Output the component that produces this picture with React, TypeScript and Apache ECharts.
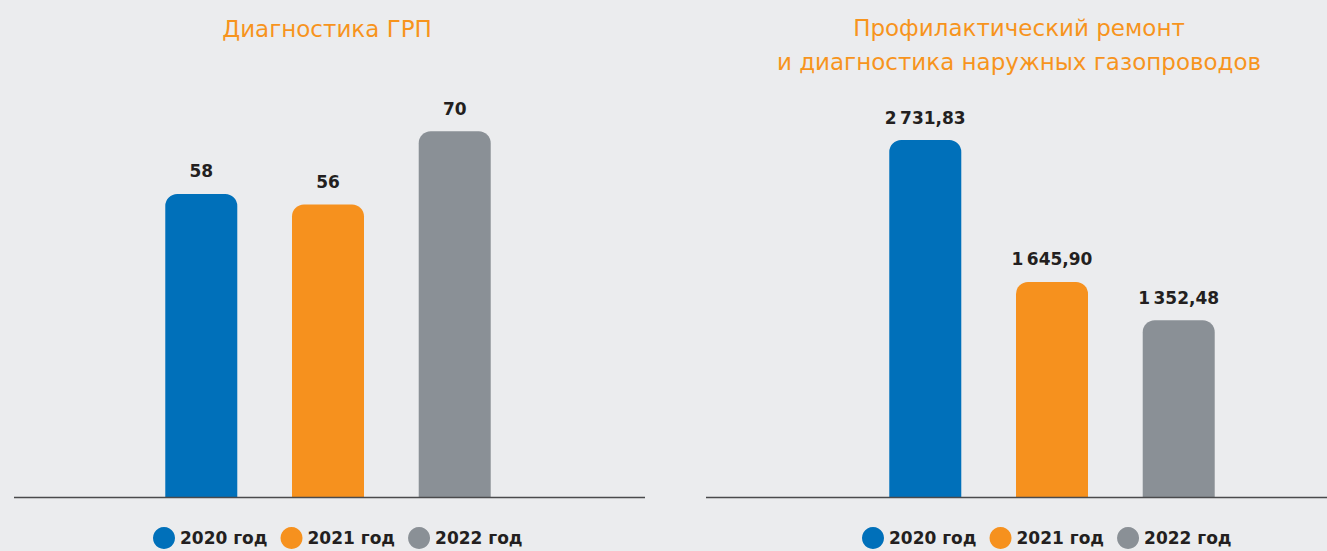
import React, { useEffect, useRef } from "react";
import * as echarts from "echarts";

const years = ["2020 год", "2021 год", "2022 год"];
const colors = ["#0070ba", "#f6911e", "#8a9096"];
const leftTitle = "Диагностика ГРП";
const rightTitle = "Профилактический ремонт\nи диагностика наружных газопроводов";
const leftValues = [58, 56, 70];
const rightValues = [2731.83, 1645.9, 1352.48];

const fmtRu = (v: number) => {
  const [i, d] = v.toFixed(2).split(".");
  const intPart = i.replace(/\B(?=(\d{3})+(?!\d))/g, "\u2009");
  return intPart + "," + d;
};

const FONT = "DejaVu Sans";

export default function App() {
  const ref = useRef<HTMLDivElement>(null);
  useEffect(() => {
    if (!ref.current) return;
    const chart = echarts.init(ref.current, null, { renderer: "svg" });
    const labelStyle = {
      show: true,
      position: "top",
      distance: 14,
      color: "#231f20",
      fontFamily: FONT,
      fontWeight: "bold",
      fontSize: 17,
    };
    const series: any[] = [];
    years.forEach((y, i) => {
      series.push({
        name: y,
        type: "bar",
        xAxisIndex: 0,
        yAxisIndex: 0,
        barWidth: 72,
        barGap: "76%",
        data: [leftValues[i]],
        itemStyle: { color: colors[i], borderRadius: [12, 12, 0, 0] },
        label: { ...labelStyle, formatter: (p: any) => String(p.value) },
      });
    });
    years.forEach((y, i) => {
      series.push({
        name: y,
        type: "bar",
        xAxisIndex: 1,
        yAxisIndex: 1,
        barWidth: 72,
        barGap: "76%",
        data: [rightValues[i]],
        itemStyle: { color: colors[i], borderRadius: [12, 12, 0, 0] },
        label: { ...labelStyle, formatter: (p: any) => fmtRu(p.value) },
      });
    });
    const legendCommon = {
      data: years,
      icon: "circle",
      itemWidth: 22,
      itemHeight: 22,
      itemGap: 13,
      padding: 0,
      top: 527,
      textStyle: {
        color: "#231f20",
        fontFamily: FONT,
        fontWeight: "bold",
        fontSize: 17,
      },
    };
    const titleStyle = {
      color: "#f7941d",
      fontFamily: FONT,
      fontWeight: "normal",
      fontSize: 23,
      lineHeight: 35,
    };
    chart.setOption({
      animation: false,
      backgroundColor: "#ebecee",
      title: [
        { text: leftTitle, left: 322, top: 6, textAlign: "center", textStyle: titleStyle },
        { text: rightTitle, left: 1014, top: 6, textAlign: "center", textStyle: { ...titleStyle, lineHeight: 34 } },
      ],
      legend: [
        { ...legendCommon, left: 153 },
        { ...legendCommon, left: 862 },
      ],
      grid: [
        { left: 128, width: 400, top: 79, bottom: 54 },
        { left: 852, width: 400, top: 105, bottom: 54 },
      ],
      xAxis: [
        { type: "category", gridIndex: 0, data: [""], axisLine: { show: false }, axisTick: { show: false }, axisLabel: { show: false } },
        { type: "category", gridIndex: 1, data: [""], axisLine: { show: false }, axisTick: { show: false }, axisLabel: { show: false } },
      ],
      yAxis: [
        { type: "value", gridIndex: 0, min: 0, max: 80, show: false, splitLine: { show: false } },
        { type: "value", gridIndex: 1, min: 0, max: 3000, show: false, splitLine: { show: false } },
      ],
      graphic: [
        { type: "line", z: 100, shape: { x1: 14, y1: 497.5, x2: 645, y2: 497.5 }, style: { stroke: "#4a4a4c", lineWidth: 1.5 } },
        { type: "line", z: 100, shape: { x1: 706, y1: 497.5, x2: 1327, y2: 497.5 }, style: { stroke: "#4a4a4c", lineWidth: 1.5 } },
      ],
      series,
    });
    return () => chart.dispose();
  }, []);
  return (
    <div
      ref={ref}
      style={{ position: "fixed", left: 0, top: 0, width: 1327, height: 551 }}
    />
  );
}
